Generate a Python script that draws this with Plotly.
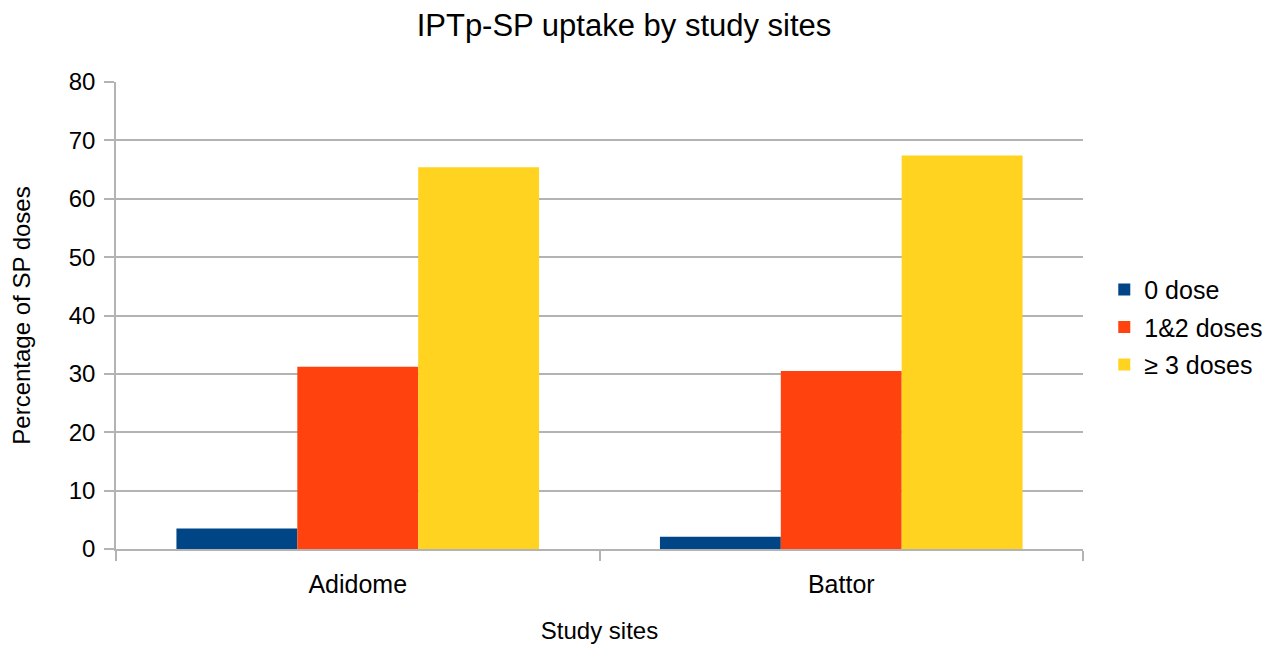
import plotly.graph_objects as go

sites = ["Adidome", "Battor"]
series_names = ["0 dose", "1&2 doses", "≥ 3 doses"]
zero_dose = [3.5, 2.1]
one_two_doses = [31.2, 30.5]
three_plus_doses = [65.4, 67.4]
colors = ["#004586", "#ff420e", "#ffd320"]
y_ticks = [0, 10, 20, 30, 40, 50, 60, 70, 80]

FONT = "Liberation Sans, Arial, sans-serif"

fig = go.Figure()
for name, vals, col in zip(series_names, [zero_dose, one_two_doses, three_plus_doses], colors):
    fig.add_trace(go.Bar(x=sites, y=vals, name=name, marker=dict(color=col, line=dict(width=0)),
                         legendgroup=name))

W, H = 1263, 636
fig.update_layout(
    width=W, height=H,
    margin=dict(l=108, r=188, t=74, b=95, autoexpand=False),
    paper_bgcolor="white", plot_bgcolor="white",
    barmode="group", bargap=0.25, bargroupgap=0,
    font=dict(family=FONT, color="#000000"),
    title=dict(text="IPTp-SP uptake by study sites", x=616 / W, xref="container", xanchor="center",
               y=1 - 6 / H, yref="container", yanchor="top", font=dict(size=31, family=FONT)),
    legend=dict(x=1.022, xanchor="left", y=0.475, yanchor="middle",
                font=dict(size=25, family=FONT), tracegroupgap=2,
                bgcolor="rgba(0,0,0,0)"),
    showlegend=True,
)
fig.update_xaxes(
    showline=True, linecolor="#b3b3b3", linewidth=1.5,
    ticks="outside", tickson="boundaries", ticklen=10, tickcolor="#b3b3b3", tickwidth=1.5,
    tickfont=dict(size=25, family=FONT), showgrid=False, ticklabelstandoff=12,
    title=dict(text="Study sites", font=dict(size=24, family=FONT), standoff=30),
)
fig.update_yaxes(
    range=[0, 80], tickvals=y_ticks, ticktext=[str(v) for v in y_ticks],
    showline=True, linecolor="#b3b3b3", linewidth=1.5,
    ticks="outside", ticklen=10, tickcolor="#b3b3b3", tickwidth=1.5,
    showgrid=True, gridcolor="#b3b3b3", gridwidth=1.5, zeroline=False,
    tickfont=dict(size=24, family=FONT), ticklabelstandoff=4,
    title=dict(text="Percentage of SP doses", font=dict(size=24, family=FONT), standoff=32),
)

fig.write_html("out.html")
